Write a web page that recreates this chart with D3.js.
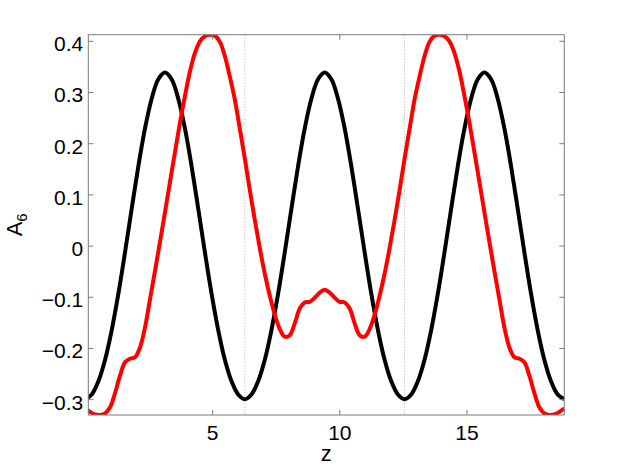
<!DOCTYPE html>
<html>
<head>
<meta charset="utf-8">
<script src="https://cdn.jsdelivr.net/npm/d3@7"></script>
<style>
  body { margin: 0; background: #fff; }
  text { font-family: "Liberation Sans", Arial, Helvetica, sans-serif; }
</style>
</head>
<body>
<div id="chart"></div>
<script>
// samples of the black curve, every pi/12 from z = 0 to 6*pi
var blackStep = Math.PI / 12;
var blackA6 = [
  -0.300, -0.291, -0.265, -0.223, -0.165, -0.094, -0.013, 0.072, 0.155, 0.229, 0.287, 0.325,
  0.338, 0.325, 0.287, 0.229, 0.155, 0.072, -0.013, -0.094, -0.165, -0.223, -0.265, -0.291,
  -0.300, -0.291, -0.265, -0.223, -0.165, -0.094, -0.013, 0.072, 0.155, 0.229, 0.287, 0.325,
  0.338, 0.325, 0.287, 0.229, 0.155, 0.072, -0.013, -0.094, -0.165, -0.223, -0.265, -0.291,
  -0.300, -0.291, -0.265, -0.223, -0.165, -0.094, -0.013, 0.072, 0.155, 0.229, 0.287, 0.325,
  0.338, 0.325, 0.287, 0.229, 0.155, 0.072, -0.013, -0.094, -0.165, -0.223, -0.265, -0.291,
  -0.300
];

// samples of the red curve, every pi/16 from z = 0 to 6*pi
var redStep = Math.PI / 16;
var redA6 = [
  -0.318, -0.325, -0.330, -0.331, -0.328, -0.316, -0.288, -0.254, -0.228, -0.221,
  -0.218, -0.199, -0.160, -0.105, -0.050, 0.007, 0.065, 0.124, 0.182, 0.240,
  0.292, 0.340, 0.376, 0.399, 0.409, 0.412, 0.410, 0.398, 0.370, 0.330,
  0.285, 0.228, 0.170, 0.108, 0.050, -0.005, -0.055, -0.098, -0.135, -0.163,
  -0.178, -0.175, -0.152, -0.123, -0.111, -0.110, -0.102, -0.092, -0.0865,
  -0.092, -0.102, -0.110, -0.111, -0.123, -0.152, -0.175, -0.178,
  -0.163, -0.135, -0.098, -0.055, -0.005, 0.050, 0.108, 0.170, 0.228, 0.285,
  0.330, 0.370, 0.398, 0.410, 0.412, 0.409, 0.399, 0.376, 0.340, 0.292,
  0.240, 0.182, 0.124, 0.065, 0.007, -0.050, -0.105, -0.160, -0.199, -0.218,
  -0.221, -0.228, -0.254, -0.288, -0.316, -0.328, -0.331, -0.330, -0.325, -0.318
];

var xTicks = [5, 10, 15];
var yTicks = [-0.3, -0.2, -0.1, 0, 0.1, 0.2, 0.3, 0.4];
var guideZ = [2 * Math.PI, 4 * Math.PI];
var xDomain = [2 * Math.PI / 50, 6 * Math.PI];
var yDomain = [-0.331, 0.412];

(function(d3) {
  'use strict';
  var width = 623, height = 468;
  var mLeft = 88.3, mRight = 564.3, mTop = 34.7, mBottom = 415;

  var svg = d3.select('#chart').append('svg')
    .attr('width', width)
    .attr('height', height);

  var x = d3.scaleLinear().domain(xDomain).range([mLeft, mRight]);
  var y = d3.scaleLinear().domain(yDomain).range([mBottom, mTop]);

  svg.append('clipPath').attr('id', 'box')
    .append('rect')
    .attr('x', mLeft).attr('y', mTop)
    .attr('width', mRight - mLeft).attr('height', mBottom - mTop);

  var plot = svg.append('g').attr('clip-path', 'url(#box)');

  // dotted guides at 2pi and 4pi
  plot.selectAll('line.guide')
    .data(guideZ)
    .enter().append('line')
    .attr('class', 'guide')
    .attr('x1', function(d) { return x(d); })
    .attr('x2', function(d) { return x(d); })
    .attr('y1', mTop).attr('y2', mBottom)
    .attr('stroke', '#b0b0b0')
    .attr('stroke-width', 1)
    .attr('stroke-dasharray', '1,2');

  var line = d3.line()
    .x(function(d) { return x(d[0]); })
    .y(function(d) { return y(d[1]); })
    .curve(d3.curveCatmullRom);

  var blackPts = blackA6.map(function(v, i) { return [i * blackStep, v]; });
  var redPts = redA6.map(function(v, i) { return [i * redStep, v]; });

  plot.append('path')
    .datum(blackPts)
    .attr('d', line)
    .attr('fill', 'none')
    .attr('stroke', '#000')
    .attr('stroke-width', 4)
    .attr('stroke-linejoin', 'round');

  plot.append('path')
    .datum(redPts)
    .attr('d', line)
    .attr('fill', 'none')
    .attr('stroke', '#ff0000')
    .attr('stroke-width', 4)
    .attr('stroke-linejoin', 'round');

  // axes, ticks inward on all four sides
  var fmt = function(d) { return d === 0 ? '0' : d3.format('.1f')(d); };
  var axisColor = '#7a7a7a';

  function styleAxis(g) {
    g.select('.domain').remove();
    g.selectAll('.tick line').attr('stroke', axisColor);
    g.selectAll('.tick text').attr('fill', '#000').style('font-size', '21px');
  }

  svg.append('g')
    .attr('transform', 'translate(' + mLeft + ',0)')
    .call(d3.axisLeft(y).tickValues(yTicks).tickFormat(fmt).tickSize(-5).tickPadding(5))
    .call(styleAxis)
    .selectAll('.tick text').attr('dy', '0.47em');

  svg.append('g')
    .attr('transform', 'translate(' + mRight + ',0)')
    .call(d3.axisRight(y).tickValues(yTicks).tickFormat('').tickSize(-5))
    .call(styleAxis);

  svg.append('g')
    .attr('transform', 'translate(0,' + mBottom + ')')
    .call(d3.axisBottom(x).tickValues(xTicks).tickFormat(d3.format('d')).tickSize(-5).tickPadding(10))
    .call(styleAxis);

  svg.append('g')
    .attr('transform', 'translate(0,' + mTop + ')')
    .call(d3.axisTop(x).tickValues(xTicks).tickFormat('').tickSize(-5))
    .call(styleAxis);

  svg.append('rect')
    .attr('x', mLeft).attr('y', mTop)
    .attr('width', mRight - mLeft).attr('height', mBottom - mTop)
    .attr('fill', 'none')
    .attr('stroke', axisColor)
    .attr('stroke-width', 1);

  // labels
  svg.append('text')
    .attr('x', (mLeft + mRight) / 2)
    .attr('y', 461)
    .attr('text-anchor', 'middle')
    .style('font-size', '22px')
    .text('z');

  var ylab = svg.append('text')
    .attr('transform', 'translate(22,' + ((mTop + mBottom) / 2) + ') rotate(-90)')
    .attr('text-anchor', 'middle')
    .style('font-size', '22px');
  ylab.append('tspan').text('A');
  ylab.append('tspan').attr('dy', 5).style('font-size', '15px').text('6');
})(window.d3);
</script>
</body>
</html>
